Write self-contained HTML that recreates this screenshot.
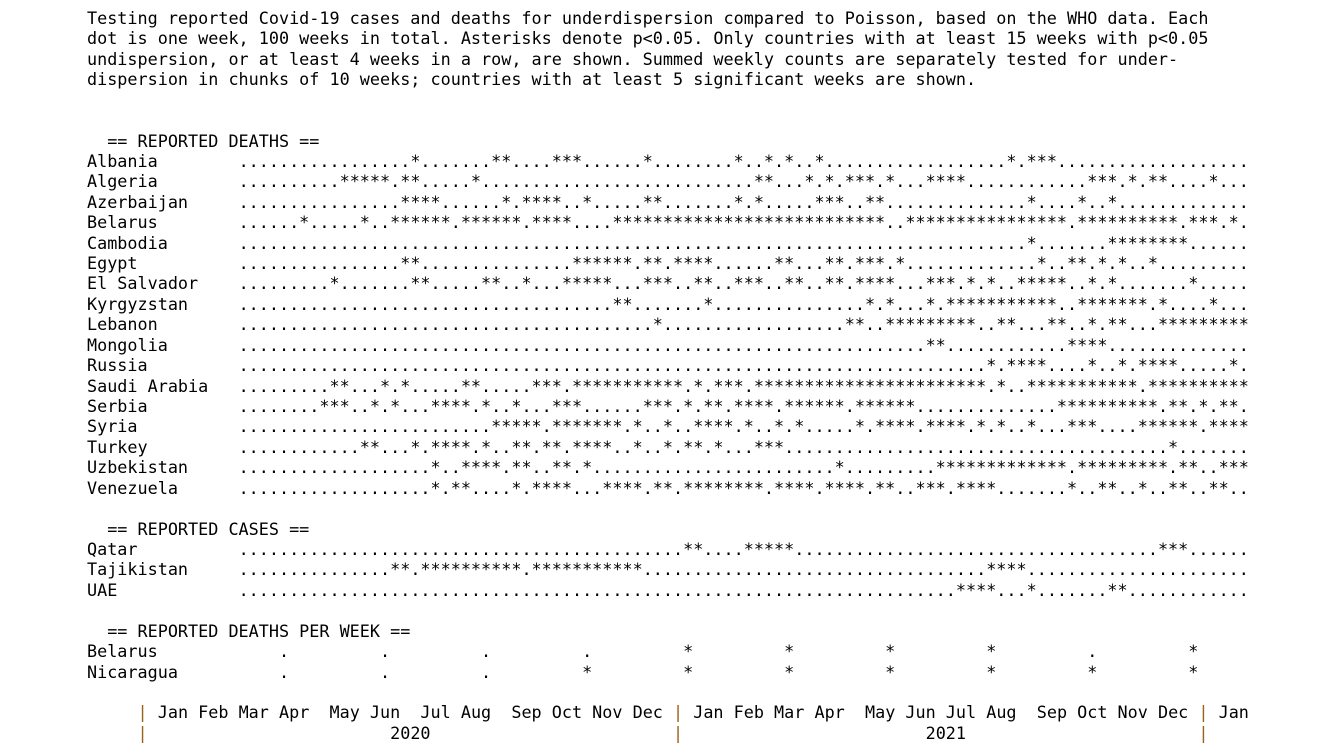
<!DOCTYPE html>
<html><head><meta charset="utf-8"><style>
html,body{margin:0;padding:0;background:#fff;width:1343px;height:755px;overflow:hidden}
pre{position:absolute;left:87px;top:8px;margin:0;font-family:"DejaVu Sans Mono","Liberation Mono",monospace;font-size:16.8px;line-height:20.42px;color:#000}
.p{color:#9a6216}
</style></head><body>
<pre id="out"></pre>
<script>
const headerLines = [
"Testing reported Covid-19 cases and deaths for underdispersion compared to Poisson, based on the WHO data. Each",
"dot is one week, 100 weeks in total. Asterisks denote p<0.05. Only countries with at least 15 weeks with p<0.05",
"undispersion, or at least 4 weeks in a row, are shown. Summed weekly counts are separately tested for under-",
"dispersion in chunks of 10 weeks; countries with at least 5 significant weeks are shown."];
const deathCountries = ["Albania","Algeria","Azerbaijan","Belarus","Cambodia","Egypt","El Salvador","Kyrgyzstan","Lebanon","Mongolia","Russia","Saudi Arabia","Serbia","Syria","Turkey","Uzbekistan","Venezuela"];
const deathSig = [
"17,25-26,31-33,40,49,52,54,57,76,78-80",
"10-14,16-17,23,51-52,56,58,60-62,64,68-71,84-86,88,90-91,96",
"16-19,26,28-31,34,40-41,49,51,57-59,62-63,78,83,86",
"6,12,15-20,22-27,29-32,37-63,66-81,83-92,94-96,98",
"78,86-93",
"16-17,33-38,40-41,43-46,53-54,58-59,61-63,65,79,82-83,85,87,90",
"9,17-18,24-25,28,32-36,40-42,45-46,49-51,54-55,58-59,61-64,68-70,72,74,77-81,84,86,94",
"37-38,46,62,64,68,70-80,83-89,91,96",
"41,60-61,64-72,75-76,80-81,84,86-87,91-99",
"68-69,82-85",
"74,76-79,84,87,89-92,98",
"9-10,14,16,22-23,29-31,33-43,45,47-49,51-73,75,78-88,90-99",
"8-10,13,15,19-22,24,27,31-33,40-42,44,46-47,49-52,54-59,61-66,81-90,92-93,95,97-98",
"25-29,31-37,39,42,45-48,50,53,55,61,63-66,68-71,73,75,78,82-84,89-94,96-99",
"12-13,17,19-22,24,27-28,30-31,33-36,39,42,44-45,47,51-53,92",
"19,22-25,27-28,31-32,34,59,69-81,83-91,93-94,97-99",
"19,21-22,27,29-32,36-39,41-42,44-51,53-56,58-61,63-64,67-69,71-74,82,85-86,89,92-93,96-97"];
const caseCountries = ["Qatar","Tajikistan","UAE"];
const caseSig = ["44-45,50-54,91-93","15-16,18-27,29-39,74-77","71-74,78,86-87"];
const weekCountries = ["Belarus","Nicaragua"];
const weekSig = [[0,0,0,0,1,1,1,1,0,1],[0,0,0,1,1,1,1,1,1,1]];

function parse(s){const set=new Set();s.split(',').forEach(p=>{const [a,b]=p.split('-').map(Number);for(let i=a;i<=(b===undefined?a:b);i++)set.add(i);});return set;}
function pad(s,n){while(s.length<n)s+=' ';return s;}
function esc(s){return s.replace(/&/g,'&amp;').replace(/</g,'&lt;');}
let html='';
headerLines.forEach(l=>{html+='<span>'+esc(l)+'</span>\n';});
html+='\n\n';
function block(title,names,sigs){
  html+='<span>  == '+title+' ==</span>\n';
  names.forEach((n,k)=>{const set=parse(sigs[k]);let row='';for(let i=0;i<100;i++)row+=set.has(i)?'*':'.';
    html+='<span>'+pad(n,15)+'</span><span>'+row+'</span>\n';});
  html+='\n';
}
block('REPORTED DEATHS',deathCountries,deathSig);
block('REPORTED CASES',caseCountries,caseSig);
html+='<span>  == REPORTED DEATHS PER WEEK ==</span>\n';
weekCountries.forEach((n,k)=>{let row='';weekSig[k].forEach(v=>{row+='    '+(v?'*':'.')+'     ';});
  html+='<span>'+pad(n,15)+'</span><span>'+row.replace(/\s+$/,'')+'</span>\n';});
html+='\n';
html+='<span>     <span class="p">|</span> Jan Feb Mar Apr  May Jun  Jul Aug  Sep Oct Nov Dec <span class="p">|</span> Jan Feb Mar Apr  May Jun Jul Aug  Sep Oct Nov Dec <span class="p">|</span> Jan</span>\n';
html+='<span>     <span class="p">|</span>'+' '.repeat(24)+'2020'+' '.repeat(24)+'<span class="p">|</span>'+' '.repeat(24)+'2021'+' '.repeat(23)+'<span class="p">|</span></span>';
document.getElementById('out').innerHTML=html;
</script>
</body></html>
